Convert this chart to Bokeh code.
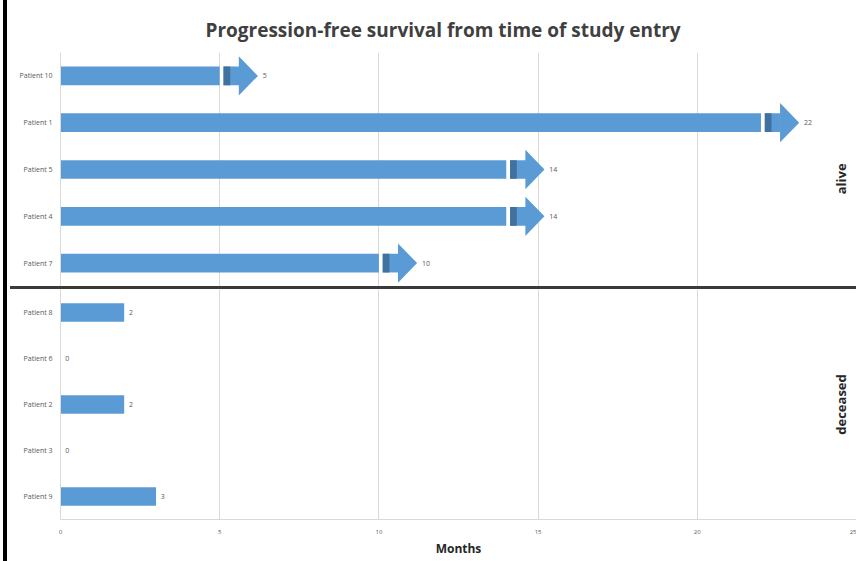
import math
from bokeh.plotting import figure
from bokeh.layouts import row, column
from bokeh.models import FixedTicker, ColumnDataSource, Range1d, Div
from bokeh.core.properties import value
from bokeh.embed import file_html
from bokeh.resources import INLINE

# ---- data ----
patients = ["Patient 10", "Patient 1", "Patient 5", "Patient 4", "Patient 7",
            "Patient 8", "Patient 6", "Patient 2", "Patient 3", "Patient 9"]
months = [5, 22, 14, 14, 10, 2, 0, 2, 0, 3]
status = ["alive", "alive", "alive", "alive", "alive",
          "deceased", "deceased", "deceased", "deceased", "deceased"]
x_ticks = [0, 5, 10, 15, 20, 25]
group_labels = ["alive", "deceased"]

BLUE = "#5b9bd5"
DARK = "#41719c"
LINE = "#3a3a3a"
GRID = "#d9d9d9"
FONT = "Open Sans"
H = 561
FIG_W = 849

n = len(patients)
ypos = [n - 1 - i for i in range(n)]
x_range = Range1d(0, 25)


def panel(group, height, y_lo, y_hi, top, bottom, label_y):
    idx = [i for i in range(n) if status[i] == group]
    ys = [ypos[i] for i in idx]
    vs = [months[i] for i in idx]
    names = [patients[i] for i in idx]

    p = figure(width=FIG_W, height=height, output_backend="svg",
               toolbar_location=None, x_range=x_range,
               y_range=Range1d(y_lo, y_hi),
               min_border_left=53, min_border_right=0, min_border_top=top,
               min_border_bottom=bottom, margin=0)
    p.outline_line_color = None
    p.background_fill_color = "white"
    p.border_fill_color = "white"

    src = ColumnDataSource(dict(y=ys, v=vs, name=names))
    p.hbar(y="y", left=0, right="v", height=0.4, source=src,
           fill_color=BLUE, line_color=None)

    if group == "alive":
        p.hbar(y=ys, left=[v + 0.12 for v in vs], right=[v + 0.62 for v in vs],
               height=0.4, fill_color=BLUE, line_color=None)
        p.hbar(y=ys, left=[v + 0.12 for v in vs], right=[v + 0.33 for v in vs],
               height=0.4, fill_color=DARK, line_color=None)
        p.patches(xs=[[v + 0.6, v + 0.6, v + 1.2] for v in vs],
                  ys=[[y + 0.42, y - 0.42, y] for y in ys],
                  fill_color=BLUE, line_color=None)
        lx = [v + 1.35 for v in vs]
    else:
        lx = [v + 0.15 for v in vs]

    p.text(x=lx, y=ys, text=[str(v) for v in vs], text_font=value(FONT),
           text_font_size="7px", text_color="#595959", text_baseline="middle",
           text_align="left")

    p.text(x=[24.5], y=[label_y], text=[group], angle=math.pi / 2,
           text_font=value(FONT), text_font_size="13px", text_font_style="bold",
           text_color="#262626", text_align="center", text_baseline="middle")

    p.yaxis.ticker = FixedTicker(ticks=ys)
    p.yaxis.major_label_overrides = {y: nm for y, nm in zip(ys, names)}
    p.yaxis.major_label_text_font = FONT
    p.yaxis.major_label_text_font_size = "7px"
    p.yaxis.major_label_text_color = "#595959"
    p.yaxis.major_label_standoff = 8
    p.yaxis.axis_line_color = GRID
    p.yaxis.major_tick_line_color = None
    p.yaxis.minor_tick_line_color = None
    p.yaxis.major_tick_out = 0
    p.yaxis.minor_tick_out = 0

    p.xaxis.ticker = FixedTicker(ticks=x_ticks)
    p.xgrid.ticker = FixedTicker(ticks=x_ticks)
    p.xgrid.grid_line_color = GRID
    p.ygrid.grid_line_color = None
    return p


top = panel("alive", 286, 4.5, 9.5, 52, 0, 6.8)
top.xaxis.visible = False
top.title.text = "Progression-free survival from time of study entry"
top.title.text_font = FONT
top.title.text_font_size = "19px"
top.title.text_font_style = "bold"
top.title.text_color = "#404040"
top.title.align = "left"
top.title.offset = 145
top.title.standoff = 20

bot = panel("deceased", H - 286 - 3, -0.5, 4.5, 0, 42, 2.0)
bot.xaxis.axis_label = "Months"
bot.xaxis.axis_label_text_font = FONT
bot.xaxis.axis_label_text_font_size = "12px"
bot.xaxis.axis_label_text_font_style = "bold"
bot.xaxis.axis_label_text_color = "#262626"
bot.xaxis.axis_label_standoff = 3
bot.xaxis.major_label_text_font = FONT
bot.xaxis.major_label_text_font_size = "6px"
bot.xaxis.major_label_text_color = "#595959"
bot.xaxis.major_label_standoff = 10
bot.xaxis.axis_line_color = GRID
bot.xaxis.major_tick_line_color = None
bot.xaxis.minor_tick_line_color = None
bot.xaxis.major_tick_out = 0
bot.xaxis.minor_tick_out = 0

# divider between the two groups
div_gap = Div(text="", width=3, height=3, margin=0,
              styles={"background-color": "white"})
div_line = Div(text="", width=FIG_W - 3, height=3, margin=0,
               styles={"background-color": LINE})
divider = row(div_gap, div_line, spacing=0, margin=0)

# left frame stripe
gap = Div(text="", width=3, height=H, margin=0,
          styles={"background-color": "white"})
stripe = Div(text="", width=4, height=H, margin=0,
             styles={"background-color": "black"})

layout = row(gap, stripe, column(top, divider, bot, spacing=0, margin=0),
             spacing=0, margin=0)

open("out.html", "w").write(file_html(layout, INLINE))
